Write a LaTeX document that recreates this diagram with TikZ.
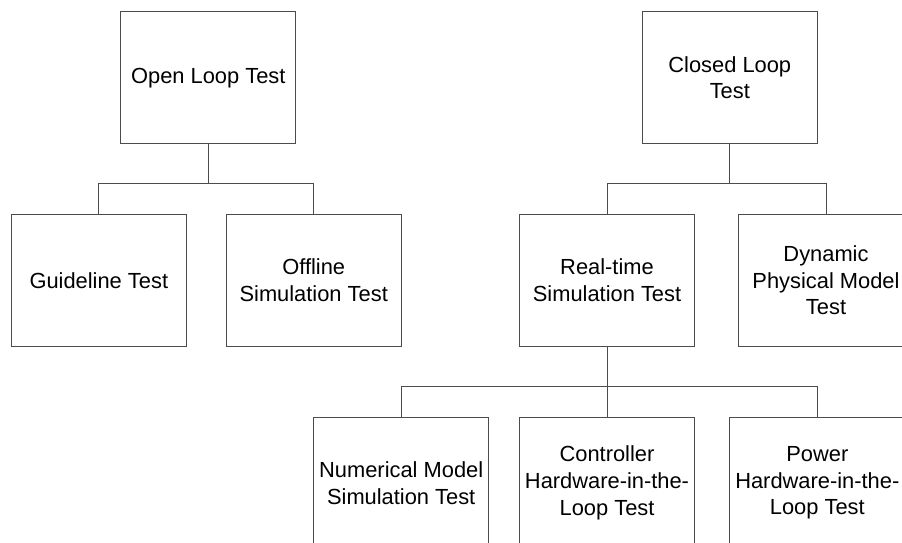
\documentclass[tikz,border=0pt]{standalone}
\usepackage{fontspec}
\setmainfont{Liberation Sans}
\begin{document}
\begin{tikzpicture}[x=0.75pt, y=-0.75pt,
  testbox/.style={draw=black!70, line width=0.75pt, fill=white,
    minimum width=175*0.75pt, minimum height=132*0.75pt, inner sep=0pt,
    align=center, font=\fontsize{16.4}{20}\selectfont},
  link/.style={draw=black!70, line width=0.75pt}]
  \useasboundingbox (0,0) rectangle (902,542);
  \clip (0,0) rectangle (902,542);

  % top level
  \node[testbox] (open)   at (208.3,77.8) {Open Loop Test};
  \node[testbox] (closed) at (729.8,77.8) {Closed Loop\\Test};

  % second level
  \node[testbox] (guide)   at (98.8,280.2)  {Guideline Test};
  \node[testbox] (offline) at (313.7,280.2) {Offline\\Simulation Test};
  \node[testbox] (rt)      at (607,280.2)   {Real-time\\Simulation Test};
  \node[testbox] (dyn)     at (826,280.2)   {Dynamic\\Physical Model\\Test};

  % third level
  \node[testbox] (num)   at (401.2,483) {Numerical Model\\Simulation Test};
  \node[testbox] (ctrl)  at (607,483)   {Controller\\Hardware-in-the-\\Loop Test};
  \node[testbox] (power) at (817.3,483) {Power\\Hardware-in-the-\\Loop Test};

  % tree connectors
  \draw[link] (open.south) -- ++(0,39.5) -| (guide.north);
  \draw[link] (open.south) -- ++(0,39.5) -| (offline.north);
  \draw[link] (closed.south) -- ++(0,39.5) -| (rt.north);
  \draw[link] (closed.south) -- ++(0,39.5) -| (dyn.north);
  \draw[link] (rt.south) -- ++(0,40) -| (num.north);
  \draw[link] (rt.south) -- (ctrl.north);
  \draw[link] (rt.south) -- ++(0,40) -| (power.north);
\end{tikzpicture}
\end{document}
